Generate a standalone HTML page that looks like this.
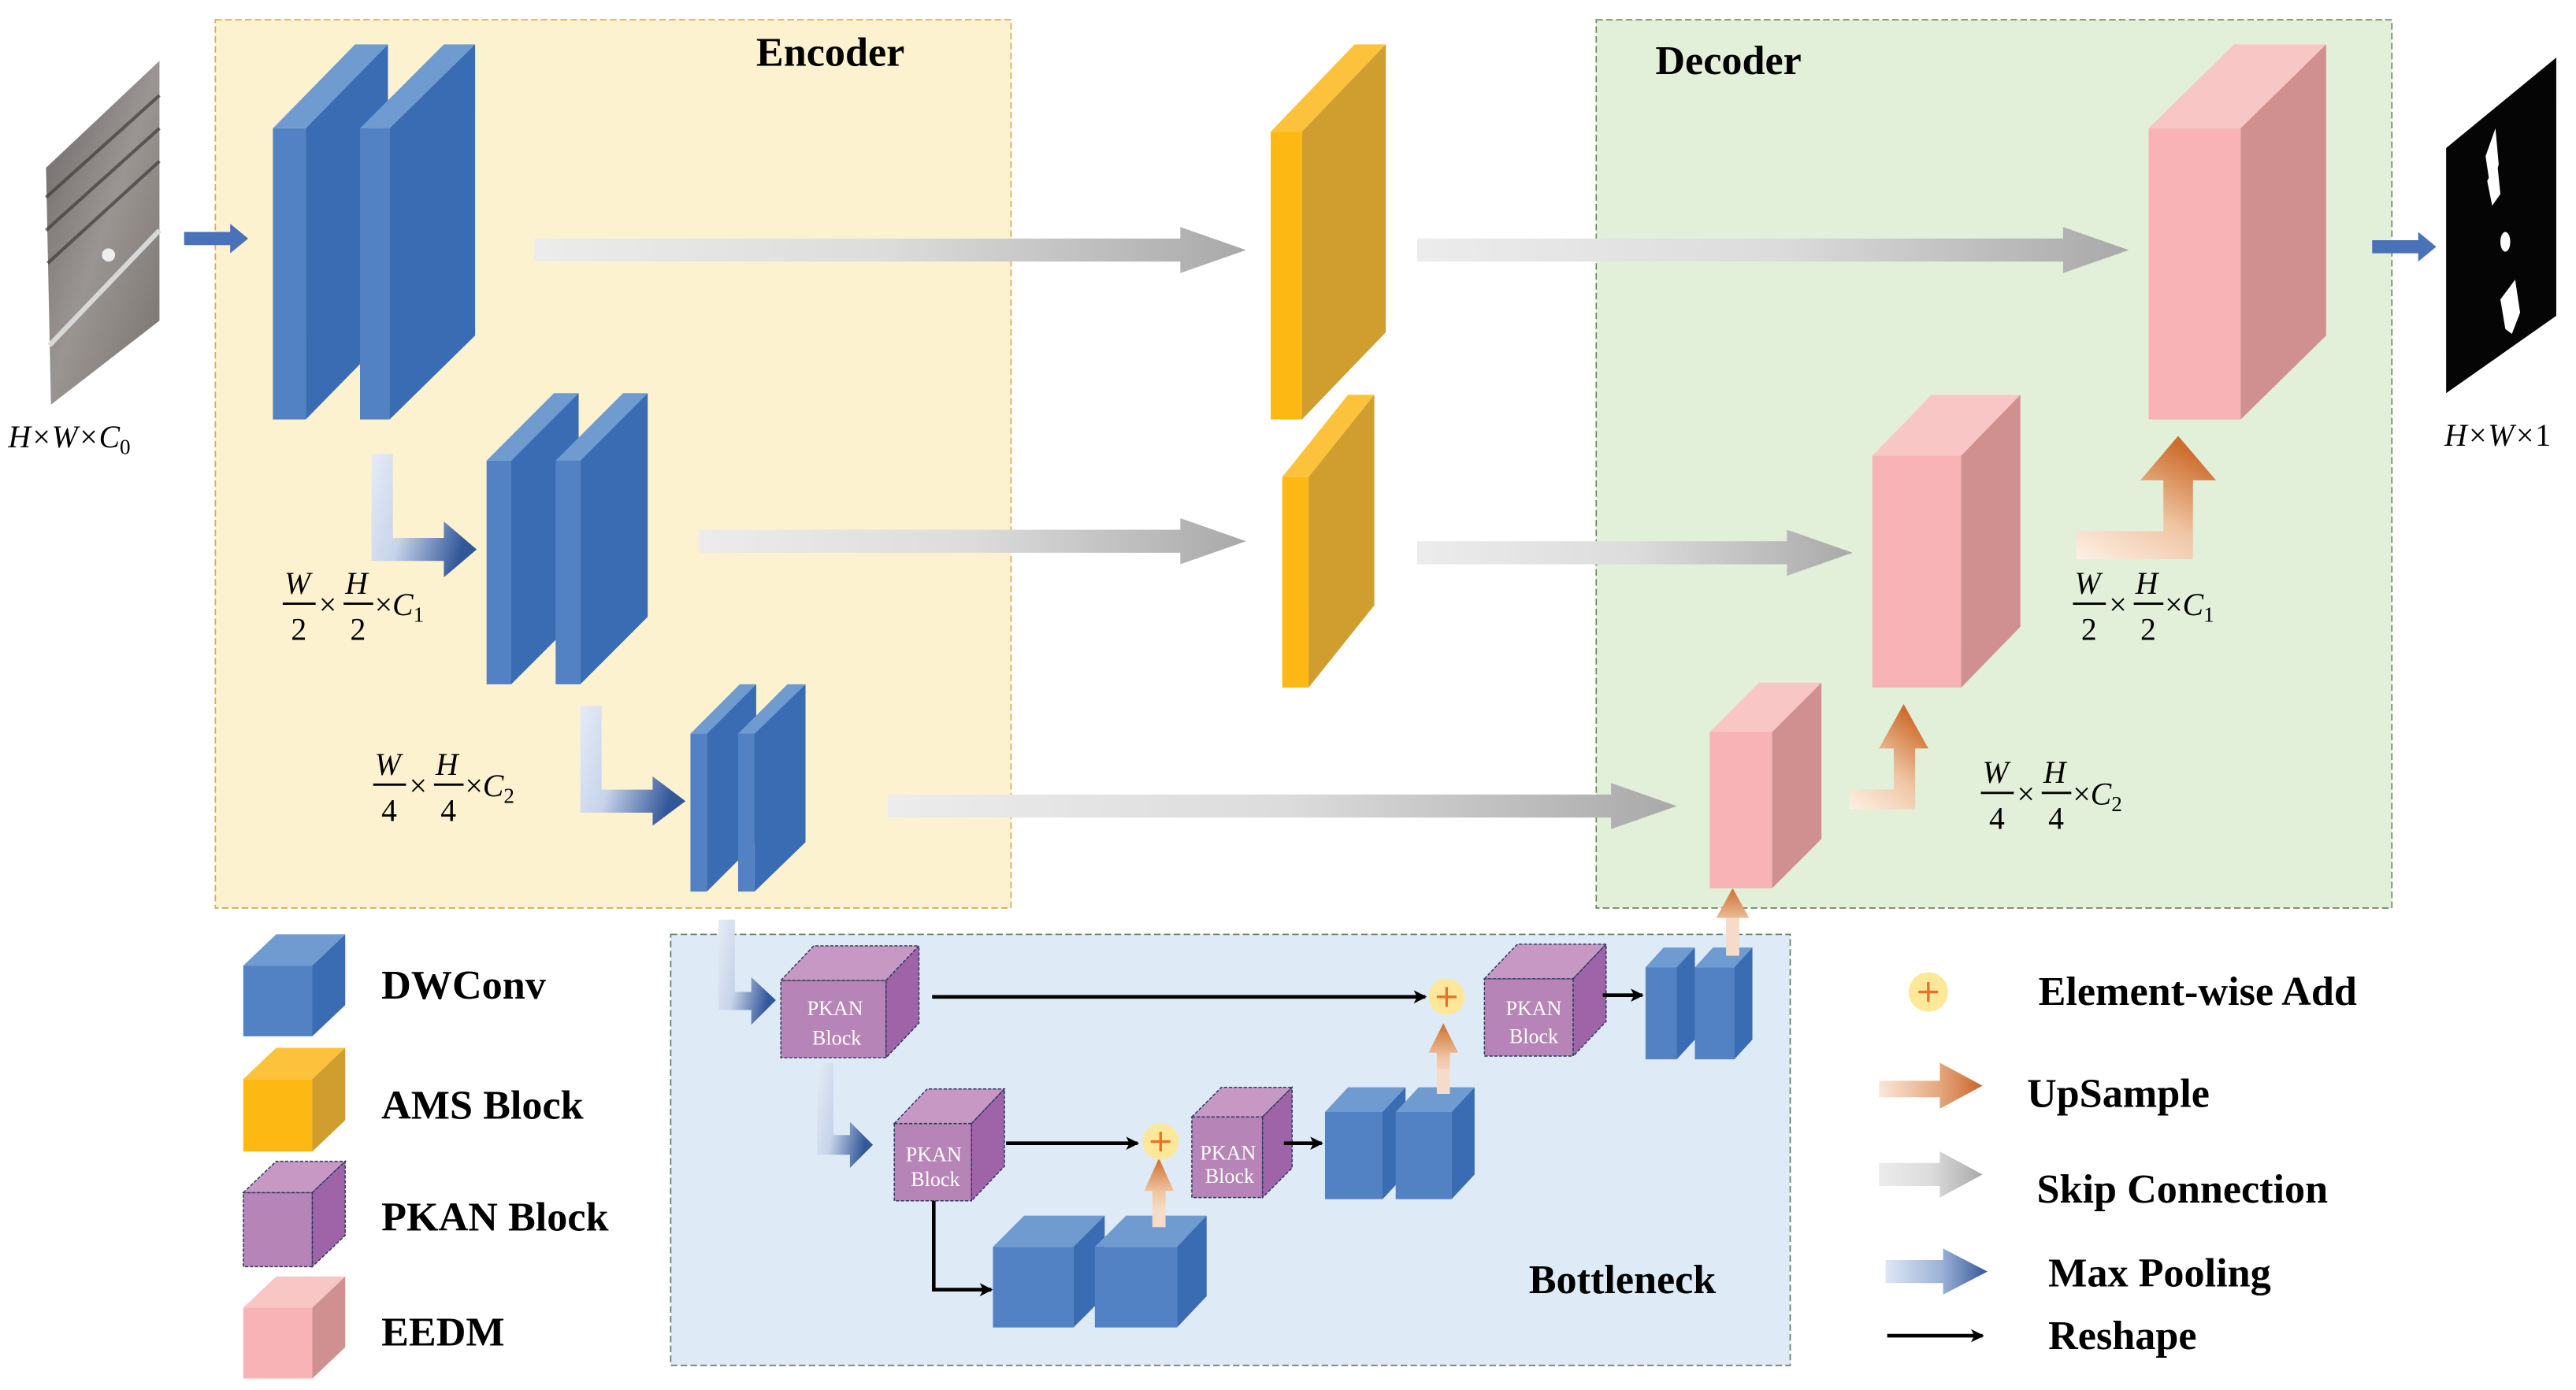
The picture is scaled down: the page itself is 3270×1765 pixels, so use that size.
<!DOCTYPE html>
<html><head><meta charset="utf-8"><style>
html,body{margin:0;padding:0;background:#fff;}
svg{display:block;}
text{font-family:"Liberation Serif",serif;}
.t{font-weight:bold;font-size:25px;fill:#000;}
.m{font-style:italic;font-size:19px;fill:#000;}
.pk{font-size:12.5px;fill:#fff;text-anchor:middle;}
</style></head><body>
<svg width="3270" height="1765" viewBox="0 0 1567 845" preserveAspectRatio="none" xmlns="http://www.w3.org/2000/svg">
<defs>
<linearGradient id="skip" x1="0" y1="0" x2="1" y2="0"><stop offset="0" stop-color="#ececec"/><stop offset="0.5" stop-color="#dcdcdc"/><stop offset="1" stop-color="#a9a9a9"/></linearGradient>
<linearGradient id="mp" x1="0" y1="0" x2="1" y2="0.35"><stop offset="0" stop-color="#e6ecf6"/><stop offset="0.45" stop-color="#c6d3e9"/><stop offset="1" stop-color="#33589a"/></linearGradient>
<linearGradient id="mph" x1="0" y1="0" x2="1" y2="0"><stop offset="0" stop-color="#dde6f3"/><stop offset="0.55" stop-color="#9db2d6"/><stop offset="1" stop-color="#33589a"/></linearGradient>
<linearGradient id="up" x1="0" y1="1" x2="0.6" y2="0"><stop offset="0" stop-color="#fdf0e6"/><stop offset="0.5" stop-color="#f0c6a4"/><stop offset="1" stop-color="#cd6e2e"/></linearGradient>
<linearGradient id="upv" x1="0" y1="1" x2="0" y2="0"><stop offset="0" stop-color="#fdf0e6"/><stop offset="0.5" stop-color="#f0c6a4"/><stop offset="1" stop-color="#cd6e2e"/></linearGradient>
<linearGradient id="uph" x1="0" y1="0" x2="1" y2="0"><stop offset="0" stop-color="#fae6d8"/><stop offset="0.6" stop-color="#e4a57a"/><stop offset="1" stop-color="#c9662a"/></linearGradient>
<linearGradient id="img" x1="0" y1="0" x2="1" y2="1"><stop offset="0" stop-color="#6a6664"/><stop offset="0.5" stop-color="#9a9592"/><stop offset="1" stop-color="#77716e"/></linearGradient>
<marker id="ah" markerWidth="8" markerHeight="8" refX="7" refY="4" orient="auto" markerUnits="userSpaceOnUse"><path d="M0,0 L8,4 L0,8 L2,4 Z" fill="#000"/></marker>
</defs>

<rect x="131" y="12" width="484" height="540" fill="#fdf2d0" stroke="#d9a94a" stroke-width="0.8" stroke-dasharray="4,2"/>
<rect x="971" y="12" width="484" height="540" fill="#e2efd9" stroke="#6b8a5a" stroke-width="0.8" stroke-dasharray="4,2"/>
<rect x="408" y="568" width="681" height="262" fill="#deebf6" stroke="#5f7a5a" stroke-width="0.8" stroke-dasharray="4,2"/>
<text class="t" x="460" y="40">Encoder</text>
<text class="t" x="1007" y="45">Decoder</text>
<text class="t" x="930" y="786">Bottleneck</text>

<polygon points="28,102 97,37 97,195 31,246" fill="url(#img)"/>
<g stroke="#3e3c3b" stroke-width="2" opacity="0.7"><line x1="28" y1="120" x2="97" y2="58"/><line x1="28" y1="140" x2="97" y2="78"/><line x1="29" y1="160" x2="97" y2="98"/></g>
<g stroke="#d8d8d8" stroke-width="3"><line x1="30" y1="210" x2="97" y2="140"/></g>
<circle cx="66" cy="155" r="4" fill="#eee"/>
<text class="m" x="5" y="272">H×W×C<tspan font-style="normal" font-size="13" dy="4">0</tspan></text>
<polygon points="112,141 140,141 140,136 151,145 140,154 140,149 112,149" fill="#4a72b8"/>

<polygon points="1488,90 1555,35 1555,192 1488,239" fill="#050505"/>
<polygon points="1512,95 1518,78 1520,100 1515,115" fill="#fff"/>
<polygon points="1513,110 1519,98 1521,118 1516,125" fill="#fff"/>
<ellipse cx="1524" cy="147" rx="3" ry="6" fill="#fff"/>
<polygon points="1521,182 1530,170 1533,190 1528,203 1524,200" fill="#fff"/>
<text class="m" x="1487" y="271">H×W×<tspan font-style="normal">1</tspan></text>
<polygon points="1443,146 1471,146 1471,141 1482,150 1471,159 1471,154 1443,154" fill="#4a72b8"/>

<rect x="166" y="78" width="20" height="177" fill="#5282c4"/><polygon points="166,78 216,27 236,27 186,78" fill="#6f9bd0"/><polygon points="186,78 236,27 236,204 186,255" fill="#3a6cb3"/>
<rect x="219" y="78" width="18" height="177" fill="#5282c4"/><polygon points="219,78 270,27 289,27 237,78" fill="#6f9bd0"/><polygon points="237,78 289,27 289,204 237,255" fill="#3a6cb3"/>
<rect x="296" y="280" width="15" height="136" fill="#5282c4"/><polygon points="296,280 337,239 352,239 311,280" fill="#6f9bd0"/><polygon points="311,280 352,239 352,375 311,416" fill="#3a6cb3"/>
<rect x="338" y="280" width="15" height="136" fill="#5282c4"/><polygon points="338,280 379,239 394,239 353,280" fill="#6f9bd0"/><polygon points="353,280 394,239 394,375 353,416" fill="#3a6cb3"/>
<rect x="420" y="446" width="10" height="96" fill="#5282c4"/><polygon points="420,446 450,416 460,416 430,446" fill="#6f9bd0"/><polygon points="430,446 460,416 460,512 430,542" fill="#3a6cb3"/>
<rect x="449" y="446" width="10" height="96" fill="#5282c4"/><polygon points="449,446 479,416 490,416 459,446" fill="#6f9bd0"/><polygon points="459,446 490,416 490,512 459,542" fill="#3a6cb3"/>

<polygon points="226,276 239,276 239,327 270,327 270,317 290,334 270,351 270,341 226,341" fill="url(#mp)"/>
<polygon points="353,429 366,429 366,480 397,480 397,472 417,487 397,502 397,494 353,494" fill="url(#mp)"/>
<polygon points="437,559 447,559 447,603 457,603 457,594 472,608 457,623 457,614 437,614" fill="url(#mp)"/>
<polygon points="497,646 507,646 507,690 517,690 517,682 531,696 517,710 517,702 497,702" fill="url(#mp)"/>

<g class="m">
<text x="173" y="361">W</text><line x1="172" y1="367" x2="192" y2="367" stroke="#000" stroke-width="1.4"/><text x="177" y="389" font-style="normal">2</text>
<text x="194" y="374" font-style="normal">×</text>
<text x="210" y="361">H</text><line x1="209" y1="367" x2="227" y2="367" stroke="#000" stroke-width="1.4"/><text x="213" y="389" font-style="normal">2</text>
<text x="228" y="374"><tspan font-style="normal">×</tspan>C<tspan font-style="normal" font-size="13" dy="4">1</tspan></text>

<text x="228" y="471">W</text><line x1="227" y1="477" x2="247" y2="477" stroke="#000" stroke-width="1.4"/><text x="232" y="499" font-style="normal">4</text>
<text x="249" y="484" font-style="normal">×</text>
<text x="265" y="471">H</text><line x1="264" y1="477" x2="282" y2="477" stroke="#000" stroke-width="1.4"/><text x="268" y="499" font-style="normal">4</text>
<text x="283" y="484"><tspan font-style="normal">×</tspan>C<tspan font-style="normal" font-size="13" dy="4">2</tspan></text>

<text x="1262" y="361">W</text><line x1="1261" y1="367" x2="1281" y2="367" stroke="#000" stroke-width="1.4"/><text x="1266" y="389" font-style="normal">2</text>
<text x="1283" y="374" font-style="normal">×</text>
<text x="1299" y="361">H</text><line x1="1298" y1="367" x2="1316" y2="367" stroke="#000" stroke-width="1.4"/><text x="1302" y="389" font-style="normal">2</text>
<text x="1317" y="374"><tspan font-style="normal">×</tspan>C<tspan font-style="normal" font-size="13" dy="4">1</tspan></text>

<text x="1206" y="476">W</text><line x1="1205" y1="482" x2="1225" y2="482" stroke="#000" stroke-width="1.4"/><text x="1210" y="504" font-style="normal">4</text>
<text x="1227" y="489" font-style="normal">×</text>
<text x="1243" y="476">H</text><line x1="1242" y1="482" x2="1260" y2="482" stroke="#000" stroke-width="1.4"/><text x="1246" y="504" font-style="normal">4</text>
<text x="1261" y="489"><tspan font-style="normal">×</tspan>C<tspan font-style="normal" font-size="13" dy="4">2</tspan></text>
</g>

<polygon points="325,145 718,145 718,138 758,152 718,166 718,159 325,159" fill="url(#skip)"/>
<polygon points="425,322 718,322 718,315 758,329 718,343 718,336 425,336" fill="url(#skip)"/>
<polygon points="540,483 980,483 980,476 1020,490 980,504 980,497 540,497" fill="url(#skip)"/>
<polygon points="862,145 1255,145 1255,138 1295,152 1255,166 1255,159 862,159" fill="url(#skip)"/>
<polygon points="862,329 1087,329 1087,322 1127,336 1087,350 1087,343 862,343" fill="url(#skip)"/>

<rect x="773" y="80" width="19" height="175" fill="#fdb813"/><polygon points="773,80 824,27 843,27 792,80" fill="#fcc23c"/><polygon points="792,80 843,27 843,202 792,255" fill="#d09e2e"/>
<rect x="780" y="290" width="16" height="128" fill="#fdb813"/><polygon points="780,290 820,240 836,240 796,290" fill="#fcc23c"/><polygon points="796,290 836,240 836,368 796,418" fill="#d09e2e"/>

<rect x="1307" y="78" width="56" height="177" fill="#f7b3b5"/><polygon points="1307,78 1359,27 1415,27 1363,78" fill="#f9c6c6"/><polygon points="1363,78 1415,27 1415,204 1363,255" fill="#d09090"/>
<rect x="1139" y="277" width="54" height="141" fill="#f7b3b5"/><polygon points="1139,277 1175,240 1229,240 1193,277" fill="#f9c6c6"/><polygon points="1193,277 1229,240 1229,381 1193,418" fill="#d09090"/>
<rect x="1040" y="445" width="38" height="95" fill="#f7b3b5"/><polygon points="1040,445 1070,415 1108,415 1078,445" fill="#f9c6c6"/><polygon points="1078,445 1108,415 1108,510 1078,540" fill="#d09090"/>

<polygon points="1263,323 1316,323 1316,292 1302,292 1325,265 1348,292 1334,292 1334,340 1263,340" fill="url(#up)"/>
<polygon points="1125,480 1152,480 1152,455 1143,455 1158,428 1173,455 1165,455 1165,492 1125,492" fill="url(#up)"/>
<polygon points="1050,581 1050,558 1044,558 1054,540 1064,558 1058,558 1058,581" fill="url(#upv)"/>
<polygon points="874,665 874,640 869,640 878,622 887,640 882,640 882,665" fill="url(#upv)"/>
<polygon points="701,746 701,724 696,724 705,704 714,724 709,724 709,746" fill="url(#upv)"/>

<g stroke="#2b3a5a" stroke-width="0.7" stroke-dasharray="2,1">
<rect x="475" y="596" width="64" height="47" fill="#b784b8"/><polygon points="475,596 495,575 559,575 539,596" fill="#c898c5"/><polygon points="539,596 559,575 559,622 539,643" fill="#9f63a8"/>
<rect x="544" y="683" width="47" height="47" fill="#b784b8"/><polygon points="544,683 564,662 611,662 591,683" fill="#c898c5"/><polygon points="591,683 611,662 611,709 591,730" fill="#9f63a8"/>
<rect x="903" y="595" width="54" height="47" fill="#b784b8"/><polygon points="903,595 923,574 977,574 957,595" fill="#c898c5"/><polygon points="957,595 977,574 977,621 957,642" fill="#9f63a8"/>
<rect x="725" y="679" width="43" height="49" fill="#b784b8"/><polygon points="725,679 743,661 786,661 768,679" fill="#c898c5"/><polygon points="768,679 786,661 786,710 768,728" fill="#9f63a8"/>
</g>
<text class="pk" x="508" y="617">PKAN</text><text class="pk" x="509" y="635">Block</text>
<text class="pk" x="568" y="706" font-size="11">PKAN</text><text class="pk" x="569" y="721" font-size="11">Block</text>
<text class="pk" x="933" y="617">PKAN</text><text class="pk" x="933" y="634">Block</text>
<text class="pk" x="747" y="705" font-size="11">PKAN</text><text class="pk" x="748" y="719" font-size="11">Block</text>

<rect x="1001" y="588" width="19" height="56" fill="#5282c4"/><polygon points="1001,588 1012,576 1031,576 1020,588" fill="#6f9bd0"/><polygon points="1020,588 1031,576 1031,632 1020,644" fill="#3a6cb3"/>
<rect x="1031" y="588" width="24" height="56" fill="#5282c4"/><polygon points="1031,588 1042,576 1066,576 1055,588" fill="#6f9bd0"/><polygon points="1055,588 1066,576 1066,632 1055,644" fill="#3a6cb3"/>
<rect x="806" y="676" width="35" height="53" fill="#5282c4"/><polygon points="806,676 820,661 855,661 841,676" fill="#6f9bd0"/><polygon points="841,676 855,661 855,714 841,729" fill="#3a6cb3"/>
<rect x="849" y="676" width="34" height="53" fill="#5282c4"/><polygon points="849,676 863,661 897,661 883,676" fill="#6f9bd0"/><polygon points="883,676 897,661 897,714 883,729" fill="#3a6cb3"/>
<rect x="604" y="758" width="49" height="49" fill="#5282c4"/><polygon points="604,758 623,739 672,739 653,758" fill="#6f9bd0"/><polygon points="653,758 672,739 672,788 653,807" fill="#3a6cb3"/>
<rect x="666" y="758" width="50" height="49" fill="#5282c4"/><polygon points="666,758 685,739 734,739 716,758" fill="#6f9bd0"/><polygon points="716,758 734,739 734,788 716,807" fill="#3a6cb3"/>
<polygon points="1050,581 1050,558 1058,558 1058,581" fill="#f6dcc8"/>
<polygon points="874,665 874,650 882,650 882,665" fill="#f6dcc8"/>
<polygon points="701,746 701,735 709,735 709,746" fill="#f6dcc8"/>

<g><circle cx="880" cy="606" r="11" fill="#fde89a"/><path d="M874,606 H886 M880,600 V612" stroke="#e8722a" stroke-width="1.6"/></g>
<g><circle cx="706" cy="694" r="11" fill="#fde89a"/><path d="M700,694 H712 M706,688 V700" stroke="#e8722a" stroke-width="1.6"/></g>

<g stroke="#000" stroke-width="2.2" fill="none" marker-end="url(#ah)">
<line x1="567" y1="606" x2="867" y2="606"/>
<line x1="612" y1="695" x2="692" y2="695"/>
<line x1="975" y1="605" x2="999" y2="605"/>
<line x1="781" y1="695" x2="804" y2="695"/>
<polyline points="568,730 568,784 603,784"/>
</g>

<rect x="148" y="587" width="42" height="43" fill="#5282c4"/><polygon points="148,587 168,568 210,568 190,587" fill="#6f9bd0"/><polygon points="190,587 210,568 210,611 190,630" fill="#3a6cb3"/>
<rect x="148" y="656" width="42" height="44" fill="#fdb813"/><polygon points="148,656 168,637 210,637 190,656" fill="#fcc23c"/><polygon points="190,656 210,637 210,681 190,700" fill="#d09e2e"/>
<g stroke="#2b3a5a" stroke-width="0.7" stroke-dasharray="2,1">
<rect x="148" y="725" width="42" height="45" fill="#b784b8"/><polygon points="148,725 168,706 210,706 190,725" fill="#c898c5"/><polygon points="190,725 210,706 210,751 190,770" fill="#9f63a8"/>
</g>
<rect x="148" y="795" width="42" height="43" fill="#f7b3b5"/><polygon points="148,795 168,776 210,776 190,795" fill="#f9c6c6"/><polygon points="190,795 210,776 210,819 190,838" fill="#d09090"/>
<text class="t" x="232" y="607">DWConv</text>
<text class="t" x="232" y="680">AMS Block</text>
<text class="t" x="232" y="748">PKAN Block</text>
<text class="t" x="232" y="818">EEDM</text>

<g><ellipse cx="1173" cy="603" rx="12" ry="12" fill="#fde89a"/><path d="M1167,603 H1179 M1173,597 V609" stroke="#e8722a" stroke-width="1.6"/></g>
<polygon points="1143,657 1180,657 1180,646 1206,660 1180,674 1180,667 1143,667" fill="url(#uph)"/>
<polygon points="1143,707 1180,707 1180,700 1206,714 1180,728 1180,721 1143,721" fill="url(#skip)"/>
<polygon points="1147,766 1182,766 1182,759 1209,773 1182,787 1182,780 1147,780" fill="url(#mph)"/>
<line x1="1148" y1="812" x2="1206" y2="812" stroke="#000" stroke-width="2.2" marker-end="url(#ah)"/>
<text class="t" x="1240" y="611">Element-wise Add</text>
<text class="t" x="1233" y="673">UpSample</text>
<text class="t" x="1239" y="731">Skip Connection</text>
<text class="t" x="1246" y="782">Max Pooling</text>
<text class="t" x="1246" y="820">Reshape</text>
</svg>
</body></html>
